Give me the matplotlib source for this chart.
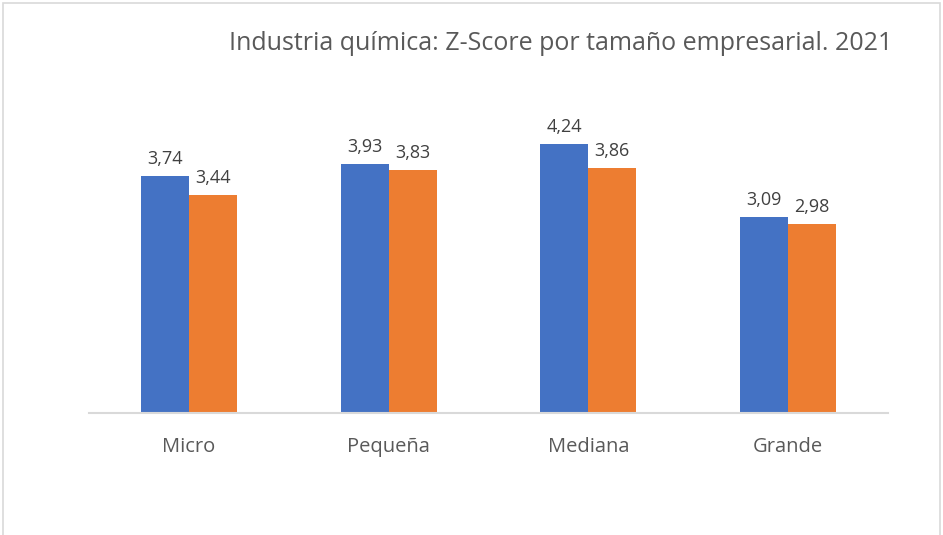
import matplotlib.pyplot as plt
from matplotlib.patches import Rectangle
import numpy as np

categorias = ['Micro', 'Pequeña', 'Mediana', 'Grande']
serie_1 = [3.74, 3.93, 4.24, 3.09]
serie_2 = [3.44, 3.83, 3.86, 2.98]

plt.rcParams['font.family'] = ['Open Sans', 'DejaVu Sans']

fig = plt.figure(figsize=(9.43, 5.35), dpi=100)
W, H = 943, 535
ax = fig.add_axes([89 / W, (H - 413) / H, 799 / W, (413 - 96) / H])

x = np.arange(len(categorias))
ancho = 0.24
b1 = ax.bar(x - ancho / 2, serie_1, ancho, color='#4472C4')
b2 = ax.bar(x + ancho / 2, serie_2, ancho, color='#ED7D31')

for barras in (b1, b2):
    for b in barras:
        ax.annotate(f'{b.get_height():.2f}'.replace('.', ','),
                    xy=(b.get_x() + b.get_width() / 2, b.get_height()),
                    xytext=(0, 6), textcoords='offset points',
                    ha='center', va='bottom', fontsize=13, color='#404040')

ax.set_xlim(-0.5, len(categorias) - 0.5)
ax.set_ylim(0, 5)
ax.set_yticks([])
ax.set_xticks(x)
ax.set_xticklabels(categorias, fontsize=14.5, color='#595959')
ax.tick_params(axis='x', length=0, pad=17)
for lado in ('top', 'right', 'left'):
    ax.spines[lado].set_visible(False)
ax.spines['bottom'].set_color('#d9d9d9')
ax.spines['bottom'].set_linewidth(1.5)

fig.text(561 / W, 1 - 44 / H, 'Industria química: Z-Score por tamaño empresarial. 2021',
         ha='center', va='center', fontsize=18, color='#595959')

fig.patches.append(Rectangle((3 / W, -0.1), (937 / W), 1.1 - 3 / H,
                             transform=fig.transFigure, fill=False,
                             edgecolor='#d9d9d9', linewidth=1.2))

fig.savefig('out.png', dpi=100)
